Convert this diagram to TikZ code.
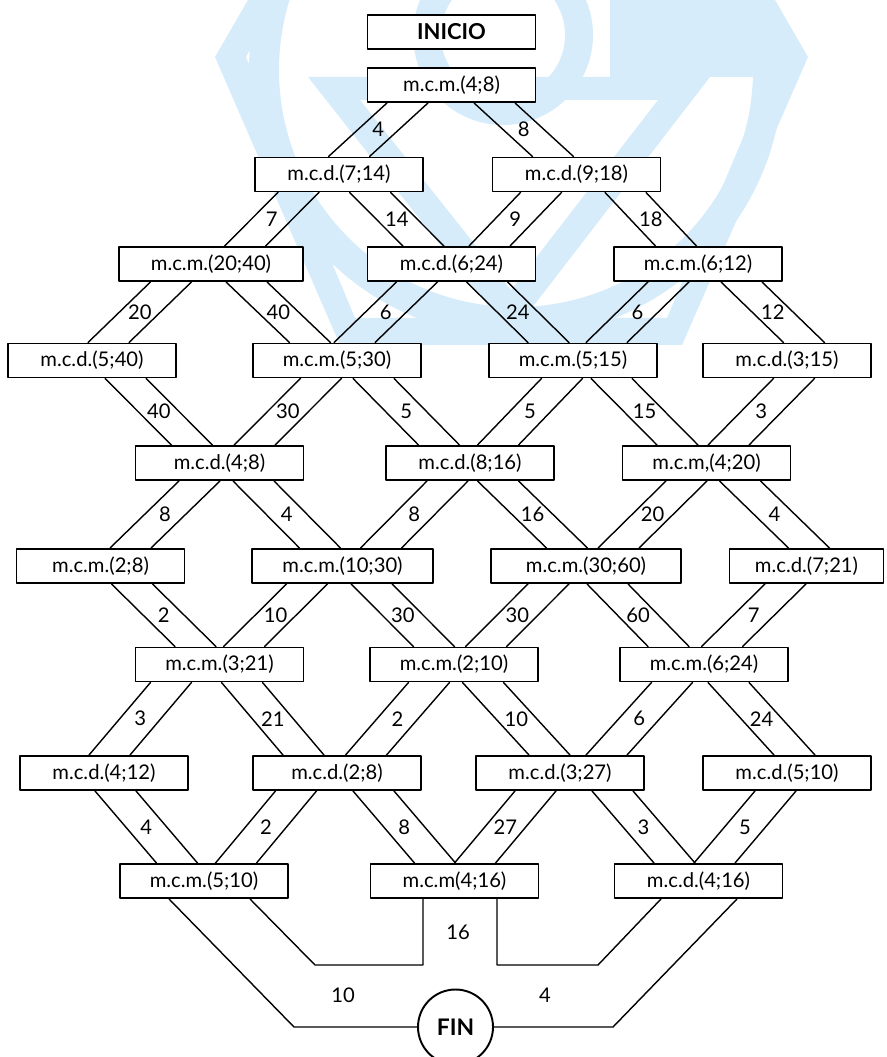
\documentclass[tikz,border=0pt]{standalone}
\usepackage{fontspec}
\setmainfont{Lato}
\usepackage{tikz}
\definecolor{marca}{RGB}{214,236,250}
\tikzstyle{caja} = [draw, fill=white, line width=1.1pt, minimum width=3.36cm, minimum height=0.68cm, inner sep=0pt, font=\fontsize{11.5}{13}\selectfont]
\tikzstyle{cifra} = [inner sep=1pt, font=\fontsize{11.5}{13}\selectfont]
% banda doble entre dos cajas: {arriba}{abajo}{desvio arriba}{desvio abajo}{numero}
\newcommand{\banda}[5]{%
  \draw ([xshift=#3cm-0.41cm]#1.south) -- ([xshift=#4cm-0.41cm]#2.north);
  \draw ([xshift=#3cm+0.41cm]#1.south) -- ([xshift=#4cm+0.41cm]#2.north);
  \path ([xshift=#3cm]#1.south) -- node[cifra] (e#1#2) {#5} ([xshift=#4cm]#2.north);
}

\begin{document}
\begin{tikzpicture}[line cap=round, line join=round, line width=0.8pt]
  \clip(0,0) rectangle (17.72,-21.14);
  % marca de agua
  \fill[marca, even odd rule] (4.30,-1.14) -- (7.26,3.98) -- (13.20,3.98) -- (16.16,-1.14) -- (13.64,-6.90) -- (6.80,-6.90) -- cycle
    (4.92,-1.14) -- (7.52,3.50) -- (12.94,3.50) -- (15.54,-1.14) -- (13.34,-6.36) -- (7.10,-6.36) -- cycle;
  \fill[marca, even odd rule] (10.32,-1.40) circle (5.34cm) (10.32,-1.40) circle (4.74cm);
  \fill[marca, even odd rule] (6.16,-1.54) -- (14.20,-1.54) -- (10.22,-6.70) -- cycle (7.20,-2.00) -- (13.16,-2.00) -- (10.22,-5.80) -- cycle;
  \fill[marca] (12.20,0) rectangle (15.20,-1.54);
  \fill[marca, even odd rule] (10.06,-0.70) circle (1.80cm) (10.06,-0.70) circle (1.24cm);
  % cajas
  \node[caja, font=\fontsize{12.5}{14}\selectfont\bfseries] (inicio) at (9.03,-0.64) {INICIO};
  \node[caja] (a) at (9.03,-1.70) {m.c.m.(4;8)};
  \node[caja] (b1) at (6.78,-3.49) {m.c.d.(7;14)};
  \node[caja] (b2) at (11.53,-3.49) {m.c.d.(9;18)};
  \node[caja, minimum width=3.68cm] (c1) at (4.22,-5.28) {m.c.m.(20;40)};
  \node[caja] (c2) at (9.03,-5.28) {m.c.d.(6;24)};
  \node[caja] (c3) at (13.96,-5.28) {m.c.m.(6;12)};
  \node[caja] (d1) at (1.84,-7.21) {m.c.d.(5;40)};
  \node[caja] (d2) at (6.74,-7.21) {m.c.m.(5;30)};
  \node[caja] (d3) at (11.46,-7.21) {m.c.m.(5;15)};
  \node[caja] (d4) at (15.74,-7.21) {m.c.d.(3;15)};
  \node[caja] (e1) at (4.39,-9.26) {m.c.d.(4;8)};
  \node[caja] (e2) at (9.40,-9.26) {m.c.d.(8;16)};
  \node[caja] (e3) at (14.13,-9.26) {m.c.m,(4;20)};
  \node[caja] (f1) at (2.01,-11.32) {m.c.m.(2;8)};
  \node[caja, minimum width=3.62cm] (f2) at (6.85,-11.32) {m.c.m.(10;30)};
  \node[caja, minimum width=3.80cm] (f3) at (11.72,-11.32) {m.c.m.(30;60)};
  \node[caja, minimum width=3.08cm] (f4) at (16.13,-11.32) {m.c.d.(7;21)};
  \node[caja] (g1) at (4.39,-13.29) {m.c.m.(3;21)};
  \node[caja] (g2) at (9.08,-13.29) {m.c.m.(2;10)};
  \node[caja] (g3) at (14.08,-13.29) {m.c.m.(6;24)};
  \node[caja] (h1) at (2.08,-15.46) {m.c.d.(4;12)};
  \node[caja] (h2) at (6.74,-15.46) {m.c.d.(2;8)};
  \node[caja] (h3) at (11.20,-15.46) {m.c.d.(3;27)};
  \node[caja] (h4) at (15.74,-15.46) {m.c.d.(5;10)};
  \node[caja] (i1) at (4.08,-17.62) {m.c.m.(5;10)};
  \node[caja] (i2) at (9.09,-17.62) {m.c.m(4;16)};
  \node[caja] (i3) at (13.97,-17.62) {m.c.d.(4;16)};
  \node[draw, circle, fill=white, line width=1.1pt, minimum size=1.5cm, inner sep=0pt, font=\fontsize{13}{15}\selectfont\bfseries] (fin) at (9.11,-20.54) {FIN};
  % bandas
  \banda{a}{b1}{-0.88}{0.20}{4}
  \banda{a}{b2}{0.86}{-0.47}{8}
  \banda{b1}{c1}{-0.81}{0.68}{7}
  \banda{b1}{c2}{0.62}{-0.56}{14}
  \banda{b2}{c2}{-0.71}{0.76}{9}
  \banda{b2}{c3}{0.98}{-0.44}{18}
  \banda{c1}{d1}{-0.80}{0.33}{20}
  \banda{c1}{d2}{0.71}{-0.54}{40}
  \banda{c2}{d2}{-0.69}{0.35}{6}
  \banda{c2}{d3}{0.71}{-0.49}{24}
  \banda{c3}{d3}{-0.59}{0.67}{6}
  \banda{c3}{d4}{0.87}{0.34}{12}
  \banda{d1}{e1}{0.67}{-0.55}{40}
  \banda{d2}{e1}{-0.32}{0.70}{30}
  \banda{d2}{e2}{0.73}{-0.62}{5}
  \banda{d3}{e2}{-0.22}{0.56}{5}
  \banda{d3}{e3}{0.77}{-0.58}{15}
  \banda{d4}{e3}{0.14}{0.44}{3}
  \banda{e1}{f1}{-0.40}{0.60}{8}
  \banda{e1}{f2}{0.68}{-0.45}{4}
  \banda{e2}{f2}{-0.45}{0.77}{8}
  \banda{e2}{f3}{0.56}{-0.38}{16}
  \banda{e3}{f3}{-0.40}{0.65}{20}
  \banda{e3}{f4}{0.67}{0.05}{4}
  \banda{f1}{g1}{0.63}{-0.48}{2}
  \banda{f2}{g1}{-0.71}{0.49}{10}
  \banda{f2}{g2}{0.58}{-0.40}{30}
  \banda{f3}{g2}{-0.75}{0.64}{30}
  \banda{f3}{g3}{0.43}{-0.71}{60}
  \banda{f4}{g3}{-0.42}{0.36}{7}
  \banda{g1}{h1}{-0.97}{0.11}{3}
  \banda{g1}{h2}{0.45}{-0.67}{21}
  \banda{g2}{h2}{-0.50}{0.58}{2}
  \banda{g2}{h3}{0.58}{-0.21}{10}
  \banda{g3}{h3}{-0.64}{0.93}{6}
  \banda{g3}{h4}{0.49}{0.15}{24}
  \banda{h1}{i1}{0.23}{-0.54}{4}
  \banda{h2}{i1}{-0.82}{0.64}{2}
  \banda{h2}{i2}{0.73}{-0.39}{8}
  \banda{h3}{i2}{-0.49}{0.41}{27}
  \banda{h3}{i3}{1.05}{-0.48}{3}
  \banda{h4}{i3}{-0.23}{0.32}{5}
  % cierre hacia FIN
  \coordinate (p1) at (5.88,-20.54);
  \coordinate (p2) at (6.30,-19.30);
  \coordinate (p3) at (8.46,-19.30);
  \coordinate (p4) at (9.94,-19.30);
  \coordinate (p5) at (11.96,-19.30);
  \coordinate (p6) at (12.26,-20.54);
  \draw ([xshift=-0.70cm]i1.south) -- (p1) -- (fin.west);
  \draw ([xshift=0.92cm]i1.south) -- (p2) -- (p3) -- ([xshift=-0.63cm]i2.south);
  \draw ([xshift=0.85cm]i2.south) -- (p4) -- (p5) -- ([xshift=-0.75cm]i3.south);
  \draw ([xshift=0.77cm]i3.south) -- (p6) -- (fin.east);
  \node[cifra] (t16) at (9.16,-18.64) {16};
  \node[cifra] (t10) at (6.86,-19.90) {10};
  \node[cifra] (t4) at (10.90,-19.90) {4};
\end{tikzpicture}
\end{document}
